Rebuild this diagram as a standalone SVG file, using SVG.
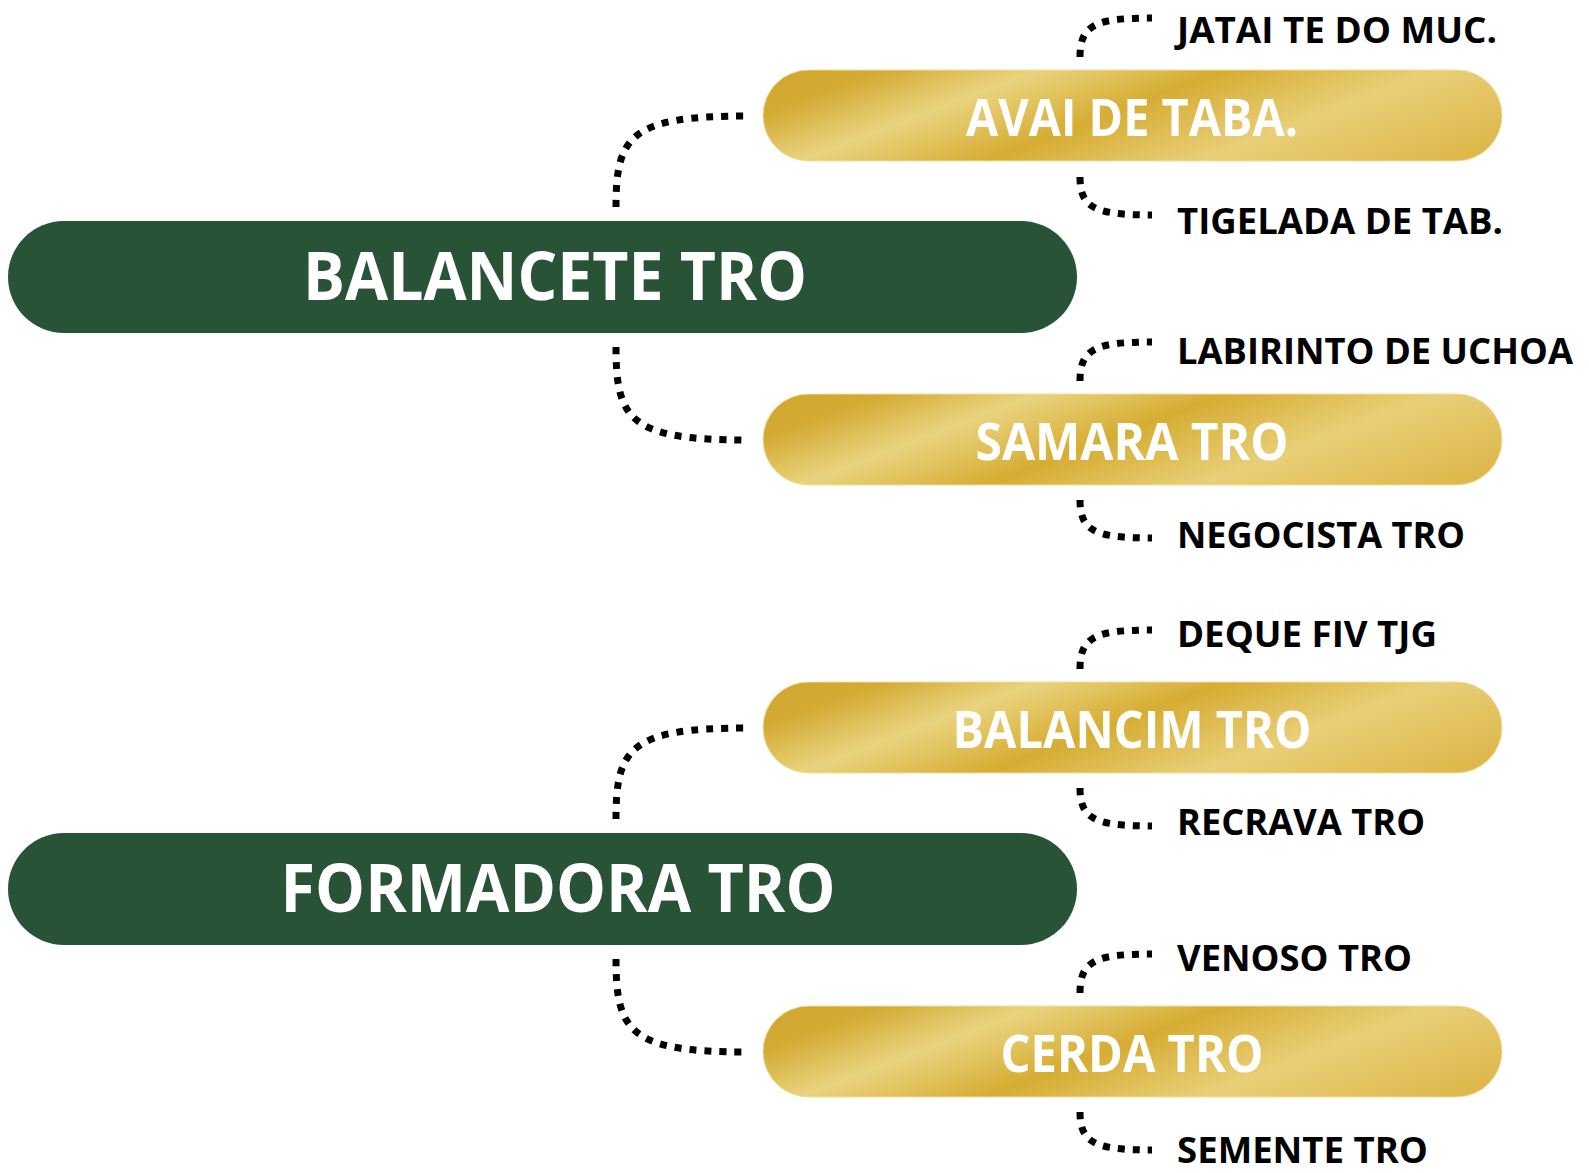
<svg xmlns="http://www.w3.org/2000/svg" width="1589" height="1173" viewBox="0 0 1589 1173">
  <defs>
    <linearGradient id="gold" gradientUnits="userSpaceOnUse" x1="0" y1="0" x2="125" y2="327">
      <stop offset="0" stop-color="#D0A62E"/>
      <stop offset="0.12" stop-color="#D3AA33"/>
      <stop offset="0.28" stop-color="#EAD37F"/>
      <stop offset="0.47" stop-color="#D6AD33"/>
      <stop offset="0.69" stop-color="#E9CF78"/>
      <stop offset="0.85" stop-color="#E2C05B"/>
      <stop offset="1" stop-color="#DAB444"/>
    </linearGradient>
    <style>
      .green { fill: #285337; }
      .goldbox { fill: url(#gold); stroke: #F1DE9E; stroke-width: 1; }
      .t-main { font-family: "Open Sans", "Noto Sans", "DejaVu Sans", sans-serif; font-weight: 700; font-size: 66px; fill: #FFFFFF; text-anchor: middle; }
      .t-sub { font-family: "Open Sans", "Noto Sans", "DejaVu Sans", sans-serif; font-weight: 700; font-size: 52px; fill: #FFFFFF; text-anchor: middle; }
      .t-leaf { font-family: "Open Sans", "Noto Sans", "DejaVu Sans", sans-serif; font-weight: 700; font-size: 36px; fill: #000000; }
      .dot { fill: none; stroke: #000000; stroke-width: 7; stroke-dasharray: 7 8; }
    </style>
  </defs>
  <rect width="1589" height="1173" fill="#FFFFFF"/>

  <g id="connectors">
    <path class="dot" d="M616,207 C616,136 630,116 747,116"/>
    <path class="dot" d="M616,347 C616,420 630,440 747,440"/>
    <path class="dot" d="M616,819 C616,748 630,728 747,728"/>
    <path class="dot" d="M616,959 C616,1032 630,1052 747,1052"/>

    <path class="dot" d="M1080,57 C1080,25 1095,18 1152,18"/>
    <path class="dot" d="M1080,177 C1080,208 1095,215 1152,215"/>
    <path class="dot" d="M1080,381 C1080,349 1095,342 1152,342"/>
    <path class="dot" d="M1080,500 C1080,531 1095,538 1152,538"/>
    <path class="dot" d="M1080,669 C1080,637 1095,630 1152,630"/>
    <path class="dot" d="M1080,788 C1080,819 1095,826 1152,826"/>
    <path class="dot" d="M1080,993 C1080,961 1095,954 1152,954"/>
    <path class="dot" d="M1080,1112 C1080,1143 1095,1150 1152,1150"/>
  </g>

  <g id="node-balancete">
    <rect class="green" x="8" y="221" width="1069" height="112" rx="56"/>
    <text class="t-main" x="555" y="300" textLength="504" lengthAdjust="spacingAndGlyphs">BALANCETE TRO</text>
  </g>
  <g id="node-formadora">
    <rect class="green" x="8" y="833" width="1069" height="112" rx="56"/>
    <text class="t-main" x="558" y="912" textLength="555" lengthAdjust="spacingAndGlyphs">FORMADORA TRO</text>
  </g>

  <g id="node-avai" transform="translate(763,70)">
    <rect class="goldbox" width="739" height="91" rx="45.5"/>
    <text class="t-sub" x="369" y="65.5" textLength="332" lengthAdjust="spacingAndGlyphs">AVAI DE TABA.</text>
  </g>
  <g id="node-samara" transform="translate(763,394)">
    <rect class="goldbox" width="739" height="91" rx="45.5"/>
    <text class="t-sub" x="369" y="65.5" textLength="313" lengthAdjust="spacingAndGlyphs">SAMARA TRO</text>
  </g>
  <g id="node-balancim" transform="translate(763,682)">
    <rect class="goldbox" width="739" height="91" rx="45.5"/>
    <text class="t-sub" x="369" y="65.5" textLength="359" lengthAdjust="spacingAndGlyphs">BALANCIM TRO</text>
  </g>
  <g id="node-cerda" transform="translate(763,1006)">
    <rect class="goldbox" width="739" height="91" rx="45.5"/>
    <text class="t-sub" x="369" y="65.5" textLength="263" lengthAdjust="spacingAndGlyphs">CERDA TRO</text>
  </g>

  <g id="leaf-jatai"><text class="t-leaf" x="1177" y="42.5" textLength="320" lengthAdjust="spacingAndGlyphs">JATAI TE DO MUC.</text></g>
  <g id="leaf-tigelada"><text class="t-leaf" x="1177" y="233.5" textLength="326" lengthAdjust="spacingAndGlyphs">TIGELADA DE TAB.</text></g>
  <g id="leaf-labirinto"><text class="t-leaf" x="1177" y="364" textLength="396" lengthAdjust="spacingAndGlyphs">LABIRINTO DE UCHOA</text></g>
  <g id="leaf-negocista"><text class="t-leaf" x="1177" y="548" textLength="288" lengthAdjust="spacingAndGlyphs">NEGOCISTA TRO</text></g>
  <g id="leaf-deque"><text class="t-leaf" x="1177" y="646.5" textLength="260" lengthAdjust="spacingAndGlyphs">DEQUE FIV TJG</text></g>
  <g id="leaf-recrava"><text class="t-leaf" x="1177" y="835" textLength="248" lengthAdjust="spacingAndGlyphs">RECRAVA TRO</text></g>
  <g id="leaf-venoso"><text class="t-leaf" x="1177" y="971" textLength="235" lengthAdjust="spacingAndGlyphs">VENOSO TRO</text></g>
  <g id="leaf-semente"><text class="t-leaf" x="1177" y="1163" textLength="251" lengthAdjust="spacingAndGlyphs">SEMENTE TRO</text></g>
</svg>
